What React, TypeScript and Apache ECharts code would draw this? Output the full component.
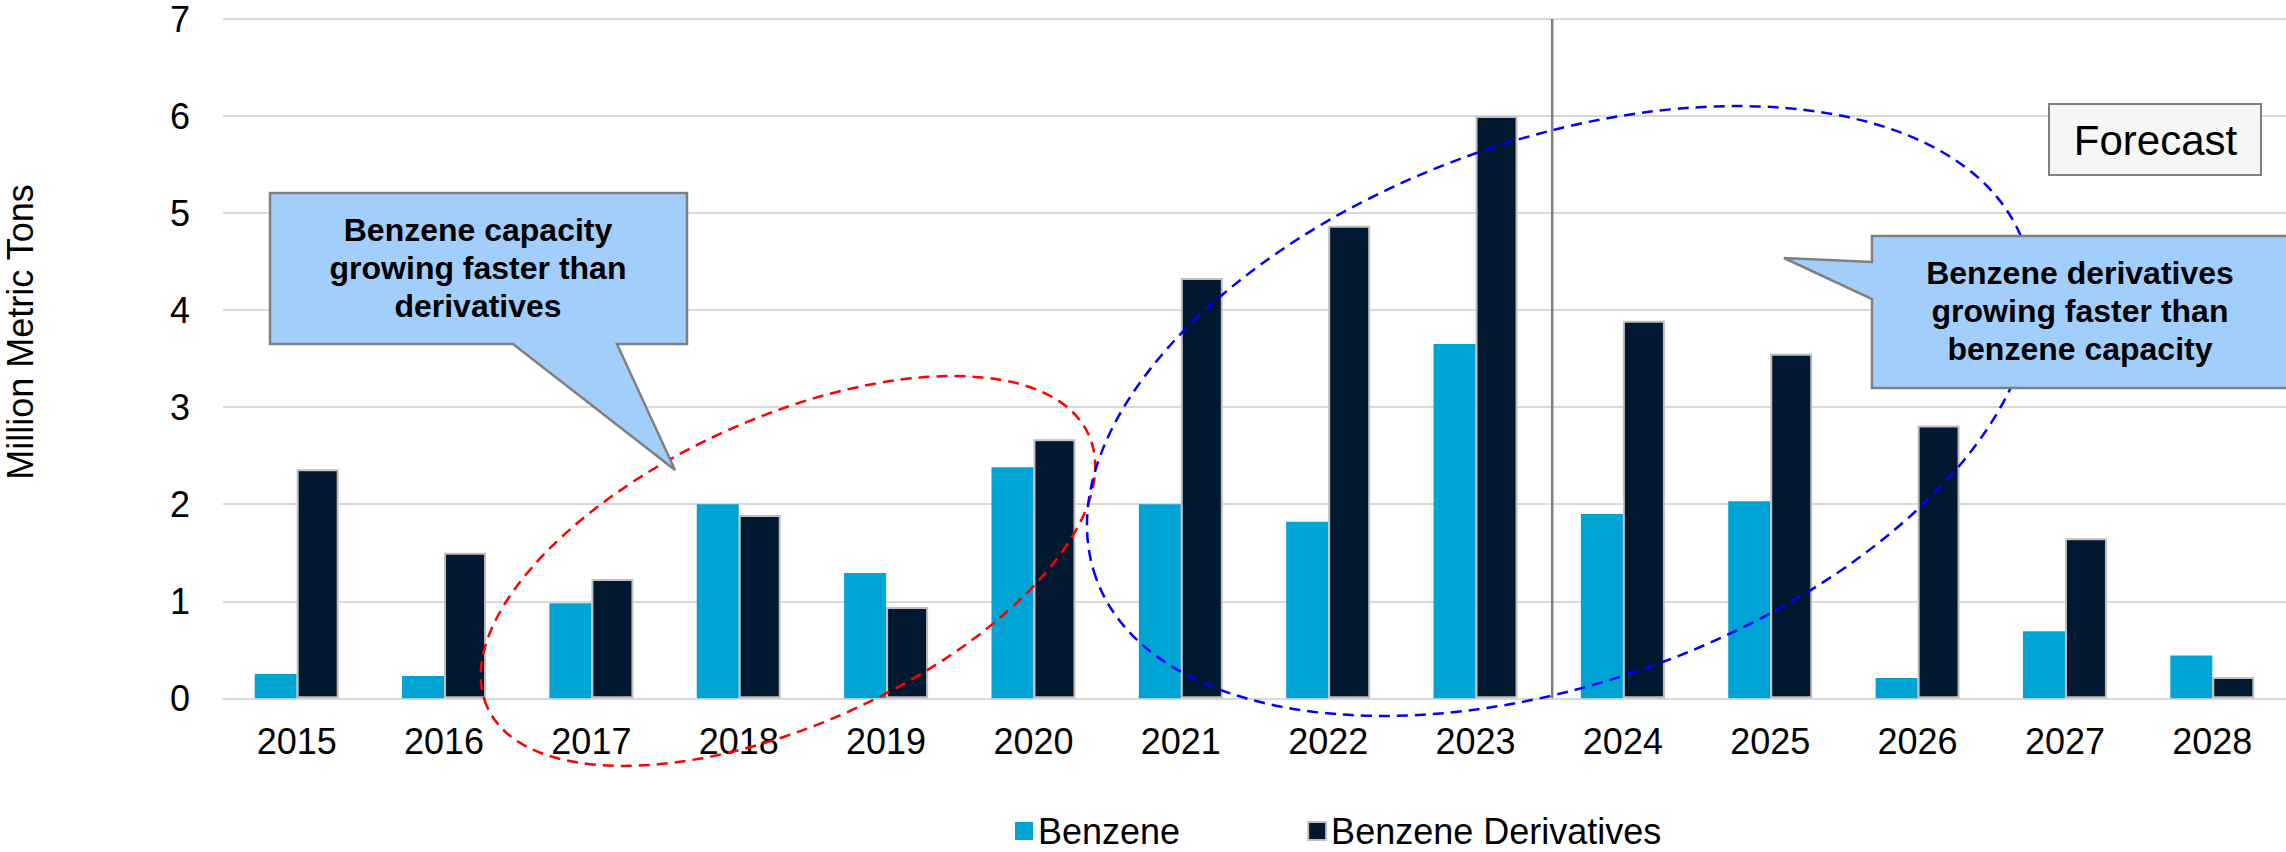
import React, { useEffect, useRef } from "react";
import * as echarts from "echarts";

const years = ["2015", "2016", "2017", "2018", "2019", "2020", "2021", "2022", "2023", "2024", "2025", "2026", "2027", "2028"];
const benzene = [0.25, 0.23, 0.98, 2.0, 1.29, 2.38, 2.0, 1.82, 3.65, 1.9, 2.03, 0.21, 0.69, 0.44];
const derivatives = [2.36, 1.5, 1.23, 1.89, 0.94, 2.67, 4.33, 4.87, 6.0, 3.89, 3.55, 2.81, 1.65, 0.22];
const seriesNames = ["Benzene", "Benzene Derivatives"];
const yMin = 0;
const yMax = 7;
const yStep = 1;
const forecastBoundary = ["2023", "2024"];
const callout1Lines = ["Benzene capacity", "growing faster than", "derivatives"];
const callout2Lines = ["Benzene derivatives", "growing faster than", "benzene capacity"];
const forecastLabel = "Forecast";
const yAxisTitle = "Million Metric Tons";

const FONT = '"Liberation Sans", Arial, sans-serif';
const BENZENE_COLOR = "#00A4D4";
const DERIV_COLOR = "#011830";
const CALLOUT_FILL = "#A1CEFB";
const CALLOUT_STROKE = "#808080";

export default function App() {
  const ref = useRef<HTMLDivElement>(null);

  useEffect(() => {
    if (!ref.current) return;
    const chart = echarts.init(ref.current, null, { renderer: "svg" });
    chart.setOption({
      animation: false,
      backgroundColor: "#ffffff",
      textStyle: { fontFamily: FONT },
      grid: { left: 223, top: 19, right: -3.6, bottom: 153.7, containLabel: false },
      legend: {
        left: 1015,
        top: 811,
        padding: 0,
        itemWidth: 18,
        itemHeight: 18,
        itemGap: 127,
        icon: "rect",
        data: seriesNames,
        textStyle: { fontSize: 36, color: "#000", fontFamily: FONT, lineHeight: 40 },
      },
      xAxis: {
        type: "category",
        data: years,
        axisLine: { lineStyle: { color: "#d9d9d9", width: 2 } },
        axisTick: { show: false },
        axisLabel: { fontSize: 36, color: "#000", margin: 25, fontFamily: FONT },
      },
      yAxis: {
        type: "value",
        min: yMin,
        max: yMax,
        interval: yStep,
        axisLine: { show: false },
        axisTick: { show: false },
        axisLabel: { fontSize: 36, color: "#000", margin: 33, fontFamily: FONT },
        splitLine: { lineStyle: { color: "#d9d9d9", width: 2 } },
      },
      series: [
        {
          type: "bar",
          name: seriesNames[0],
          data: benzene,
          barWidth: 42,
          barGap: "0%",
          itemStyle: { color: BENZENE_COLOR },
        },
        {
          type: "bar",
          name: seriesNames[1],
          data: derivatives,
          barWidth: 42,
          barGap: "0%",
          itemStyle: { color: DERIV_COLOR, borderColor: "#BFBFBF", borderWidth: 2 },
        },
      ],
    });

    const xa = chart.convertToPixel({ xAxisIndex: 0 }, forecastBoundary[0]) as number;
    const xb = chart.convertToPixel({ xAxisIndex: 0 }, forecastBoundary[1]) as number;
    const yTop = chart.convertToPixel({ yAxisIndex: 0 }, yMax) as number;
    const yBot = chart.convertToPixel({ yAxisIndex: 0 }, yMin) as number;
    const xLine = (xa + xb) / 2 + 3;

    const calloutText = (lines: string[], x: number, y: number) => ({
      type: "text",
      z: 30,
      style: {
        text: lines.join("\n"),
        x,
        y,
        fill: "#000",
        font: `bold 32px ${FONT}`,
        align: "center",
        verticalAlign: "middle",
        lineHeight: 38,
      },
    });

    chart.setOption({
      graphic: [
        {
          type: "line",
          z: 5,
          shape: { x1: xLine, y1: yTop, x2: xLine, y2: yBot },
          style: { stroke: "#808080", lineWidth: 2.5 },
        },
        {
          type: "ellipse",
          z: 10,
          x: 788,
          y: 571,
          rotation: (24.4 * Math.PI) / 180,
          shape: { cx: 0, cy: 0, rx: 330, ry: 153 },
          style: { fill: "rgba(0,0,0,0)", stroke: "#FF0000", lineWidth: 2.5, lineDash: [11, 7] },
        },
        {
          type: "ellipse",
          z: 10,
          x: 1560,
          y: 411,
          rotation: (19.8 * Math.PI) / 180,
          shape: { cx: 0, cy: 0, rx: 493, ry: 271 },
          style: { fill: "rgba(0,0,0,0)", stroke: "#0000FF", lineWidth: 2.5, lineDash: [11, 7] },
        },
        {
          type: "polygon",
          z: 20,
          shape: {
            points: [
              [270, 193], [687, 193], [687, 344], [617, 344], [675, 470], [513, 344], [270, 344],
            ],
          },
          style: { fill: CALLOUT_FILL, stroke: CALLOUT_STROKE, lineWidth: 2.5 },
        },
        calloutText(callout1Lines, 478, 268),
        {
          type: "polygon",
          z: 20,
          shape: {
            points: [
              [1872, 236], [2288, 236], [2288, 388], [1872, 388], [1872, 299], [1784, 258], [1872, 262],
            ],
          },
          style: { fill: CALLOUT_FILL, stroke: CALLOUT_STROKE, lineWidth: 2.5 },
        },
        calloutText(callout2Lines, 2080, 311),
        {
          type: "rect",
          z: 20,
          shape: { x: 2049, y: 104, width: 212, height: 71 },
          style: { fill: "#F5F6F5", stroke: "#808080", lineWidth: 2 },
        },
        {
          type: "text",
          z: 30,
          style: {
            text: forecastLabel,
            x: 2155.5,
            y: 140,
            fill: "#000",
            font: `42px ${FONT}`,
            align: "center",
            verticalAlign: "middle",
          },
        },
        {
          type: "text",
          z: 30,
          x: 20,
          y: 332,
          rotation: Math.PI / 2,
          style: {
            text: yAxisTitle,
            x: 0,
            y: 0,
            fill: "#000",
            font: `36px ${FONT}`,
            align: "center",
            verticalAlign: "middle",
          },
        },
      ],
    });

    return () => chart.dispose();
  }, []);

  return (
    <div
      ref={ref}
      style={{ position: "absolute", left: 0, top: 0, width: 2286, height: 852 }}
    />
  );
}
